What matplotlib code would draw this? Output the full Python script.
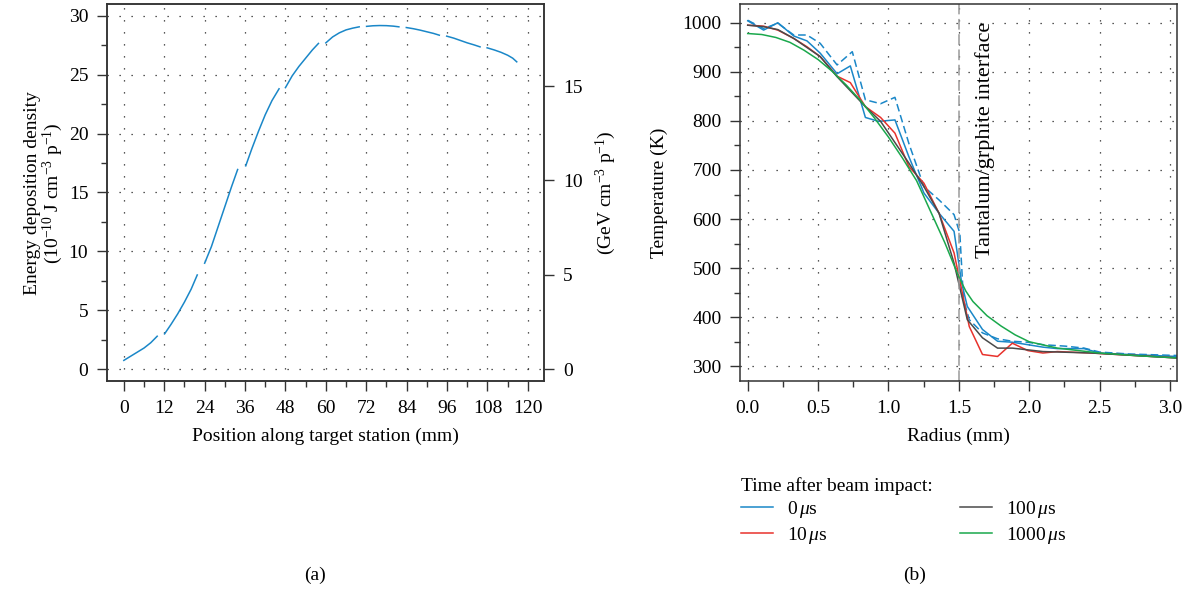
"""Energy deposition along the target and radial temperature profiles."""
import matplotlib

matplotlib.use("Agg")
import matplotlib.pyplot as plt
from matplotlib.ticker import MultipleLocator, FormatStrFormatter

plt.rcParams["font.family"] = ["Liberation Serif", "DejaVu Serif"]
plt.rcParams["mathtext.fontset"] = "custom"
plt.rcParams["mathtext.rm"] = "Liberation Serif"
plt.rcParams["mathtext.it"] = "Liberation Serif:italic"
plt.rcParams["font.size"] = 14

# (a) energy deposition along target station, one segment per target disc
disc_pos = [
    [0, 2, 4, 6, 8, 9.9],
    [12.1, 14, 16, 18, 20, 21.8],
    [24, 26, 28, 30, 32, 33.8],
    [36.2, 38, 40, 42, 44, 46.1],
    [48, 50, 52, 54, 56, 57.8],
    [60, 62, 64, 66, 68, 69.9],
    [72.1, 74, 76, 78, 80, 81.7],
    [83.9, 86, 88, 90, 92, 93.7],
    [95.9, 98, 100, 102, 104, 105.8],
    [107.9, 110, 112, 114, 115.5, 116.7],
]
disc_edep = [
    [0.75, 1.1, 1.45, 1.8, 2.25, 2.8],
    [3.0, 3.8, 4.7, 5.7, 6.8, 8.0],
    [9.0, 10.4, 12.1, 13.8, 15.5, 16.95],
    [17.26, 18.7, 20.2, 21.6, 22.8, 23.8],
    [23.9, 24.9, 25.7, 26.4, 27.1, 27.65],
    [27.7, 28.2, 28.55, 28.8, 28.95, 29.06],
    [29.1, 29.15, 29.17, 29.16, 29.12, 29.06],
    [29.0, 28.9, 28.78, 28.64, 28.5, 28.35],
    [28.27, 28.1, 27.9, 27.7, 27.53, 27.36],
    [27.28, 27.1, 26.9, 26.65, 26.4, 26.09],
]
J_PER_GEV = 1.602  # 10^-10 J per GeV

# (b) temperature vs radius
r_0 = [0, 0.113, 0.214, 0.327, 0.421, 0.515, 0.635, 0.729, 0.836, 0.930, 1.046,
       1.145, 1.252, 1.359, 1.466, 1.52, 1.56, 1.668, 1.775, 1.88, 1.99, 2.097,
       2.2, 2.39, 2.5, 2.71, 3.05]
t_0 = [1004, 985, 1000, 973, 963, 938, 896, 912, 807, 799, 802, 727, 653, 612,
       575, 470, 422, 375, 351, 349, 344, 339, 336, 336, 327, 324, 320]

r_0b = [0, 0.113, 0.214, 0.327, 0.421, 0.515, 0.635, 0.743, 0.836, 0.944, 1.046,
        1.145, 1.252, 1.359, 1.466, 1.507, 1.533, 1.574, 1.668, 1.775, 1.88,
        1.99, 2.097, 2.257, 2.39, 2.5, 2.71, 3.05]
t_0b = [1005, 988, 999, 975, 975, 958, 914, 941, 843, 835, 848, 754, 666, 639,
        609, 571, 436, 395, 368, 356, 351, 349, 344, 341, 337, 329, 325, 322]

r_10 = [0, 0.113, 0.214, 0.327, 0.421, 0.515, 0.635, 0.729, 0.836, 0.944, 1.046,
        1.145, 1.252, 1.359, 1.466, 1.574, 1.668, 1.775, 1.88, 1.99, 2.097, 2.2,
        2.445, 3.05]
t_10 = [995, 993, 985, 968, 951, 931, 891, 878, 829, 807, 775, 707, 673, 612,
        531, 381, 324, 320, 347, 332, 327, 330, 327, 317]

r_100 = [0, 0.113, 0.214, 0.327, 0.515, 0.635, 0.836, 0.944, 1.145, 1.252, 1.359,
         1.466, 1.56, 1.668, 1.775, 1.88, 2.097, 2.445, 3.05]
t_100 = [995, 992, 986, 968, 931, 890, 829, 799, 714, 666, 612, 510, 395, 358,
         337, 337, 330, 327, 317]

r_1000 = [0, 0.1, 0.2, 0.3, 0.4, 0.5, 0.6, 0.7, 0.8, 0.9, 1.0, 1.1, 1.2, 1.3,
          1.4, 1.45, 1.5, 1.55, 1.6, 1.7, 1.8, 1.9, 2.0, 2.2, 2.5, 2.8, 3.05]
t_1000 = [978, 976, 970, 960, 944, 925, 901, 873, 842, 806, 767, 724, 678, 615,
          552, 517, 482, 453, 432, 403, 382, 364, 350, 337, 327, 321, 317]

BLUE = "#1a87c8"
RED = "#e8322c"
GREY = "#4a4a4a"
GREEN = "#1aa84c"
SPINE = "#333333"


def style_axes(ax):
    for sp in ax.spines.values():
        sp.set_color(SPINE)
        sp.set_linewidth(1.1)
    ax.tick_params(which="major", direction="out", length=7.5, width=1.0,
                   color=SPINE, pad=6)
    ax.tick_params(which="minor", direction="out", length=4, width=1.0,
                   color=SPINE)
    ax.grid(True, which="major", color="#222222", linewidth=0.9,
            linestyle=(0, (1, 8.6)))


fig = plt.figure(figsize=(11.93, 5.93), dpi=100)

# ---- (a) ----
ax1 = fig.add_axes([0.0897, 0.3575, 0.3663, 0.6352])
for xs, ys in zip(disc_pos, disc_edep):
    ax1.plot(xs, ys, color=BLUE, linewidth=1.1)
ax1.set_xlim(-5, 124.8)
ax1.set_ylim(-1.0, 30.97)
ax1.xaxis.set_major_locator(MultipleLocator(12))
ax1.xaxis.set_minor_locator(MultipleLocator(6))
ax1.yaxis.set_major_locator(MultipleLocator(5))
ax1.yaxis.set_minor_locator(MultipleLocator(2.5))
style_axes(ax1)
ax1.set_xlabel("Position along target station (mm)", labelpad=8)
ax1.set_ylabel("Energy deposition density\n"
               "(10$^{-10}$ J cm$^{-3}$ p$^{-1}$)", linespacing=1.0, labelpad=2.5)

ax1r = ax1.twinx()
lo, hi = ax1.get_ylim()
ax1r.set_ylim(lo / J_PER_GEV, hi / J_PER_GEV)
ax1r.yaxis.set_major_locator(MultipleLocator(5))
ax1r.tick_params(which="major", direction="out", length=7.5, width=1.0,
                 color=SPINE, pad=6)
for sp in ax1r.spines.values():
    sp.set_color(SPINE)
    sp.set_linewidth(1.1)
ax1r.set_ylabel("(GeV cm$^{-3}$ p$^{-1}$)", labelpad=8)

# ---- (b) ----
ax2 = fig.add_axes([0.6205, 0.3575, 0.3661, 0.6352])
ax2.plot(r_0b, t_0b, color=BLUE, linewidth=1.1, linestyle=(0, (5, 2.5)))
ax2.plot(r_0, t_0, color=BLUE, linewidth=1.1, label="0$\\,\\mu$s")
ax2.plot(r_10, t_10, color=RED, linewidth=1.1, label="10$\\,\\mu$s")
ax2.plot(r_100, t_100, color=GREY, linewidth=1.1, label="100$\\,\\mu$s")
ax2.plot(r_1000, t_1000, color=GREEN, linewidth=1.1, label="1000$\\,\\mu$s")
ax2.axvline(1.5, color="#9a9a9a", linewidth=1.1, linestyle=(0, (7, 3)))
ax2.text(1.685, 0.955, "Tantalum/grphite interface", rotation=90,
         transform=ax2.get_xaxis_transform(), ha="center", va="top",
         fontsize=16)
ax2.set_xlim(-0.053, 3.05)
ax2.set_ylim(270, 1037.5)
ax2.xaxis.set_major_locator(MultipleLocator(0.5))
ax2.xaxis.set_minor_locator(MultipleLocator(0.25))
ax2.yaxis.set_major_locator(MultipleLocator(100))
ax2.yaxis.set_minor_locator(MultipleLocator(50))
ax2.xaxis.set_major_formatter(FormatStrFormatter("%.1f"))
style_axes(ax2)
ax2.set_xlabel("Radius (mm)", labelpad=8)
ax2.set_ylabel("Temperature (K)", labelpad=10)

handles, labels = ax2.get_legend_handles_labels()
leg = fig.legend(handles, labels,
                 loc="upper left", bbox_to_anchor=(0.6214, 0.196), ncol=2,
                 frameon=False, title="Time after beam impact:",
                 alignment="left", handlelength=1.65, handletextpad=0.7,
                 columnspacing=6.8, labelspacing=0.25, borderaxespad=0,
                 borderpad=0)
leg.get_title().set_fontsize(14)
leg._legend_box.sep = 3

fig.text(0.264, 0.029, "(a)", ha="center", va="center")
fig.text(0.767, 0.029, "(b)", ha="center", va="center")

fig.savefig("out.png", dpi=100)
